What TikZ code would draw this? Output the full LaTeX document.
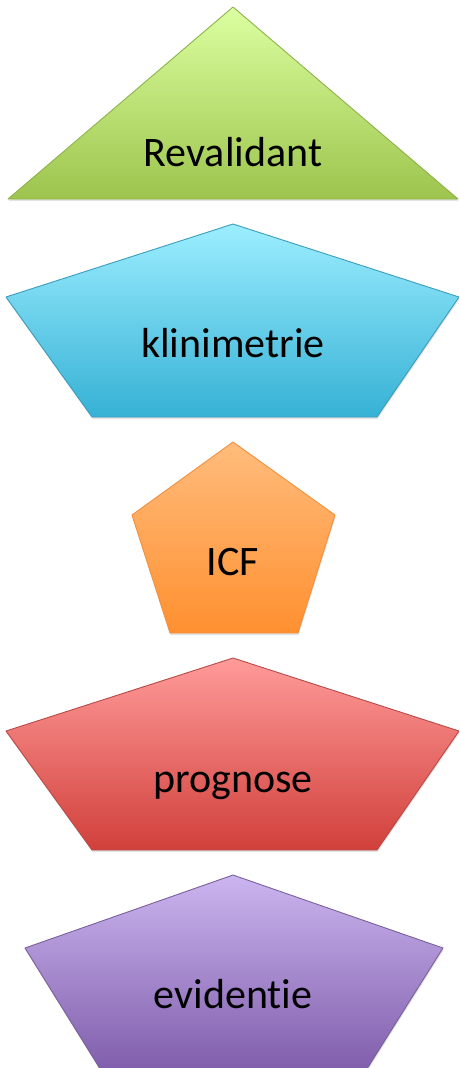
\documentclass[tikz,border=0pt]{standalone}
\usepackage{fontspec}
\setmainfont{Carlito}[Ligatures=NoCommon]
\usetikzlibrary{shadows}

\definecolor{greentop}{HTML}{DBFFA0}
\definecolor{greenbot}{HTML}{9DC44D}
\definecolor{greenline}{HTML}{8DB24A}
\definecolor{bluetop}{HTML}{9CEEFF}
\definecolor{bluebot}{HTML}{36B1D5}
\definecolor{blueline}{HTML}{3C9DBC}
\definecolor{orangetop}{HTML}{FFBC7C}
\definecolor{orangebot}{HTML}{FF9030}
\definecolor{orangeline}{HTML}{F0903E}
\definecolor{redtop}{HTML}{FF9B9A}
\definecolor{redbot}{HTML}{D1403B}
\definecolor{redline}{HTML}{B84A47}
\definecolor{purpletop}{HTML}{CBB5EF}
\definecolor{purplebot}{HTML}{7C59A8}
\definecolor{purpleline}{HTML}{7A609C}

\tikzset{
    layer/.style={draw=#1line, line width=0.9pt, line join=round,
        top color=#1top, bottom color=#1bot,
        drop shadow={opacity=0.22, shadow xshift=0.6pt, shadow yshift=-2pt}},
    word/.style={font=\fontsize{42}{50}\selectfont, text=black, inner sep=0pt, anchor=base}
}

\begin{document}
\begin{tikzpicture}[x=1pt, y=-1pt]
    \useasboundingbox (0, 0) rectangle (459, 1068);
    \clip (0, 0) rectangle (459, 1068);

    % triangle
    \coordinate (T1) at (233, 7);
    \coordinate (T2) at (458, 199);
    \coordinate (T3) at (8, 199);
    \path[layer=green] (T1) -- (T2) -- (T3) -- cycle;
    \node[word] (revalidant) at (233, 166) {Revalidant};

    % wide pentagon 1
    \coordinate (K1) at (233, 224);
    \coordinate (K2) at (459, 297);
    \coordinate (K3) at (377, 417);
    \coordinate (K4) at (92, 417);
    \coordinate (K5) at (6, 297);
    \path[layer=blue] (K1) -- (K2) -- (K3) -- (K4) -- (K5) -- cycle;
    \node[word] (klinimetrie) at (233, 357) {klinimetrie};

    % small pentagon
    \coordinate (I1) at (233, 442);
    \coordinate (I2) at (335, 515);
    \coordinate (I3) at (298, 633);
    \coordinate (I4) at (170, 633);
    \coordinate (I5) at (132, 515);
    \path[layer=orange] (I1) -- (I2) -- (I3) -- (I4) -- (I5) -- cycle;
    \node[word] (icf) at (233, 575) {ICF};

    % wide pentagon 2
    \coordinate (P1) at (233, 658);
    \coordinate (P2) at (459, 731);
    \coordinate (P3) at (377, 850);
    \coordinate (P4) at (92, 850);
    \coordinate (P5) at (6, 731);
    \path[layer=red] (P1) -- (P2) -- (P3) -- (P4) -- (P5) -- cycle;
    \node[word] (prognose) at (233, 792) {prognose};

    % pentagon 3, cut off at the bottom
    \coordinate (E1) at (233, 875);
    \coordinate (E2) at (443, 948);
    \coordinate (E3) at (360, 1080);
    \coordinate (E4) at (107, 1080);
    \coordinate (E5) at (25, 948);
    \path[layer=purple] (E1) -- (E2) -- (E3) -- (E4) -- (E5) -- cycle;
    \node[word] (evidentie) at (233, 1008) {evidentie};
\end{tikzpicture}
\end{document}
